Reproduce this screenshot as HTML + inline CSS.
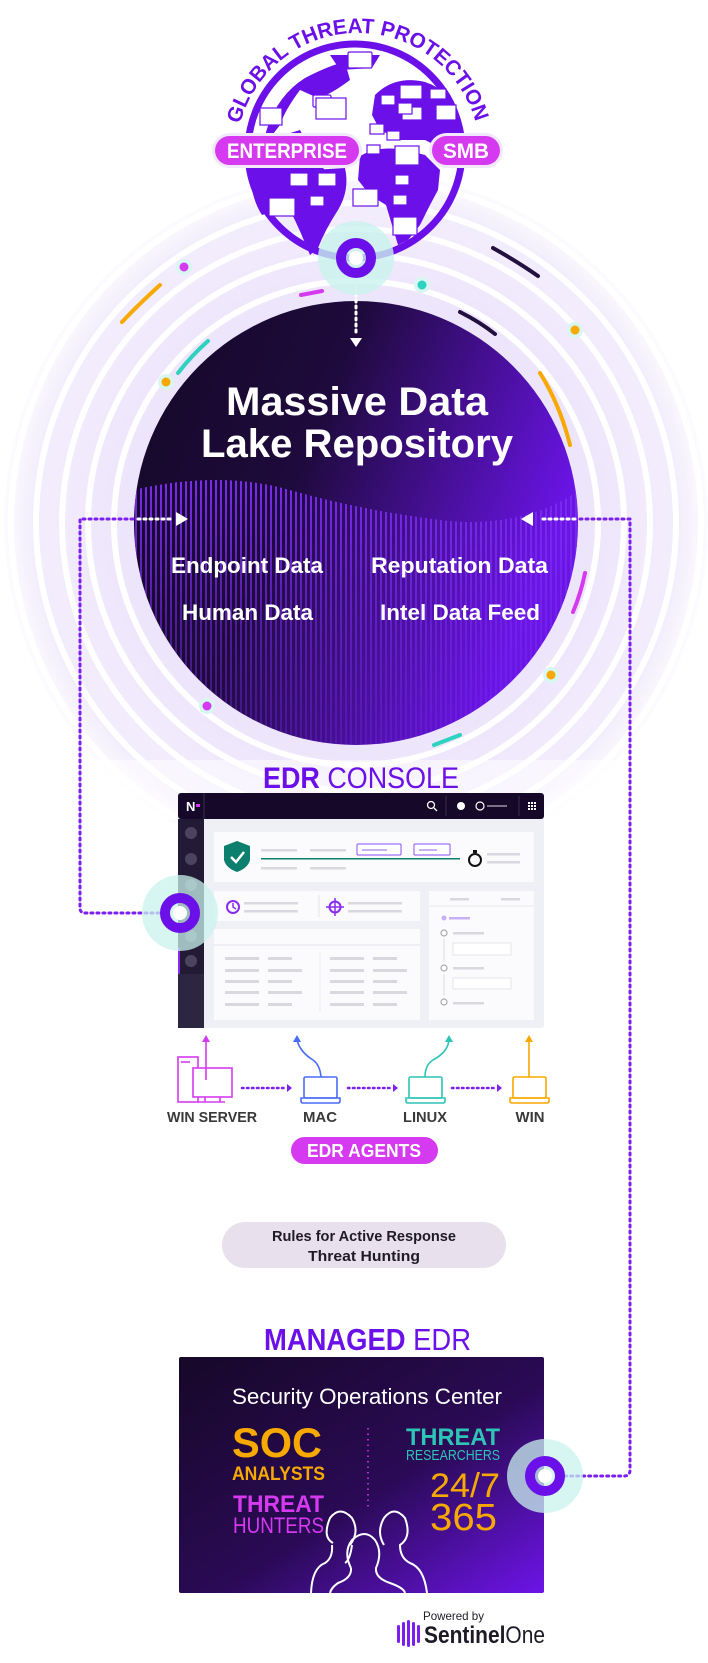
<!DOCTYPE html>
<html><head><meta charset="utf-8"><style>
html,body{margin:0;padding:0;background:#fff;}
svg{display:block;}
text{font-family:"Liberation Sans",sans-serif;}
</style></head><body>
<svg width="708" height="1663" viewBox="0 0 708 1663" xmlns="http://www.w3.org/2000/svg">
<defs>
<radialGradient id="glow" cx="356" cy="523" r="360" gradientUnits="userSpaceOnUse">
<stop offset="0.6" stop-color="#ece4fb"/><stop offset="0.9" stop-color="#f3eefc"/><stop offset="1" stop-color="#ffffff"/>
</radialGradient>
<linearGradient id="lake" x1="0" y1="0" x2="1" y2="0.4">
<stop offset="0" stop-color="#150826"/><stop offset="0.45" stop-color="#1e0a3c"/><stop offset="1" stop-color="#6a14e6"/>
</linearGradient>
<linearGradient id="soc" x1="0" y1="0" x2="1" y2="1">
<stop offset="0" stop-color="#170828"/><stop offset="0.55" stop-color="#2a0a55"/><stop offset="1" stop-color="#6d14e8"/>
</linearGradient>
<pattern id="stripes" width="5" height="10" patternUnits="userSpaceOnUse">
<rect width="2" height="10" fill="#7b2cf0"/>
</pattern>
<linearGradient id="fade" x1="0" y1="0" x2="0" y2="1">
<stop offset="0" stop-color="#fff" stop-opacity="1"/><stop offset="0.5" stop-color="#fff" stop-opacity="0.55"/><stop offset="1" stop-color="#fff" stop-opacity="0.25"/>
</linearGradient>
<mask id="wm"><path d="M133 490 Q220 470 290 490 T440 520 T580 490 L580 760 L133 760Z" fill="url(#fade)"/></mask>
<clipPath id="lc"><circle cx="356" cy="523" r="222"/></clipPath>
<path id="arcT" d="M240 124 A122 122 0 0 1 476 124"/>
</defs>

<circle cx="356" cy="523" r="352" fill="url(#glow)"/>
<g fill="none" stroke="#fff" stroke-width="6">
<circle cx="356" cy="523" r="242"/><circle cx="356" cy="523" r="268"/><circle cx="356" cy="523" r="294"/><circle cx="356" cy="523" r="320"/><circle cx="356" cy="523" r="345"/>
</g>
<rect x="0" y="760" width="708" height="60" fill="#fff" opacity="0.5"/>

<g fill="none" stroke-width="4" stroke-linecap="round">
<path d="M160 285 Q138 305 122 322" stroke="#f7a900"/>
<path d="M208 341 Q192 355 178 373" stroke="#2fd1c0"/>
<path d="M301 295 L322 291" stroke="#d63af0"/>
<path d="M493 248 Q518 262 538 276" stroke="#22103f"/>
<path d="M460 312 Q480 322 495 334" stroke="#22103f"/>
<path d="M540 373 Q560 405 570 445" stroke="#f7a900"/>
<path d="M585 573 Q581 593 573 612" stroke="#d63af0"/>
<path d="M434 745 L460 735" stroke="#2fd1c0"/>
</g>
<g>
<circle cx="184" cy="267" r="8" fill="#d8f6f2"/><circle cx="184" cy="267" r="4.5" fill="#d63af0"/>
<circle cx="422" cy="285" r="8" fill="#d8f6f2"/><circle cx="422" cy="285" r="4.5" fill="#2fd1c0"/>
<circle cx="575" cy="330" r="8" fill="#d8f6f2"/><circle cx="575" cy="330" r="4.5" fill="#f7a900"/>
<circle cx="166" cy="382" r="8" fill="#d8f6f2"/><circle cx="166" cy="382" r="4.5" fill="#f7a900"/>
<circle cx="207" cy="706" r="8" fill="#d8f6f2"/><circle cx="207" cy="706" r="4.5" fill="#d63af0"/>
<circle cx="551" cy="675" r="8" fill="#d8f6f2"/><circle cx="551" cy="675" r="4.5" fill="#f7a900"/>
</g>

<circle cx="356" cy="523" r="222" fill="url(#lake)"/>
<g clip-path="url(#lc)">
<rect x="133" y="460" width="450" height="300" fill="url(#stripes)" mask="url(#wm)"/>
</g>
<text x="357" y="415" font-size="40" font-weight="bold" fill="#fff" text-anchor="middle" textLength="262" lengthAdjust="spacingAndGlyphs">Massive Data</text>
<text x="357" y="457" font-size="40" font-weight="bold" fill="#fff" text-anchor="middle" textLength="312" lengthAdjust="spacingAndGlyphs">Lake Repository</text>
<g font-size="22" font-weight="bold" fill="#fff">
<text x="171" y="573" textLength="152" lengthAdjust="spacingAndGlyphs">Endpoint Data</text>
<text x="371" y="573" textLength="177" lengthAdjust="spacingAndGlyphs">Reputation Data</text>
<text x="182" y="620" textLength="131" lengthAdjust="spacingAndGlyphs">Human Data</text>
<text x="380" y="620" textLength="160" lengthAdjust="spacingAndGlyphs">Intel Data Feed</text>
</g>

<g fill="none" stroke="#7a1ff0" stroke-width="3" stroke-dasharray="2 4" stroke-linecap="round">
<path d="M133 519 L80 519 L80 908 Q80 913 85 913 L160 913"/>
<path d="M580 519 L630 519 L630 1470 Q630 1476 624 1476 L560 1476"/>
</g>
<g fill="none" stroke="#fff" stroke-width="3" stroke-dasharray="2 4" stroke-linecap="round">
<path d="M138 519 L172 519"/><path d="M575 519 L540 519"/>
<path d="M356 282 L356 335"/>
</g>
<path d="M176 512 L188 519 L176 526Z" fill="#fff"/>
<path d="M533 512 L521 519 L533 526Z" fill="#fff"/>
<path d="M350 338 L362 338 L356 347Z" fill="#fff"/>

<g fill="#6b10e8">
<path d="M262 150 Q270 100 305 78 Q330 65 345 62 L350 80 Q330 95 318 98 L300 90 Q285 110 280 125 L270 138 Q262 145 262 150Z"/>
<path d="M250 175 Q255 150 268 140 L300 130 Q310 150 320 165 L335 180 Q322 190 312 195 L300 196 Q290 200 280 210 L262 215 Q252 200 250 175Z"/>
<path d="M280 172 L345 168 Q350 190 338 210 Q325 230 318 248 L310 255 Q300 230 290 210 Z"/>
<path d="M375 95 Q395 75 425 82 Q450 90 455 115 L463 145 L445 150 L425 140 L400 140 L380 130 L372 115Z"/>
<path d="M360 156 Q380 145 405 150 L425 155 L440 170 L438 190 L430 205 L420 225 L408 240 L398 245 L392 225 L386 205 L370 195 L358 180Z"/>
<path d="M330 55 L380 55 L372 68 L340 70Z"/>
</g>
<circle cx="355" cy="151" r="107" fill="none" stroke="#6b10e8" stroke-width="7"/>
<g fill="#fff" stroke="#6b10e8" stroke-width="1.2">
<rect x="348" y="52" width="24" height="16" rx="1.5"/><rect x="313" y="95" width="18" height="12" rx="1.5"/><rect x="316" y="98" width="30" height="21"/><rect x="260" y="108" width="22" height="17"/>
<rect x="400" y="85" width="22" height="14"/><rect x="402" y="107" width="20" height="13"/><rect x="381" y="95" width="14" height="10"/><rect x="430" y="89" width="16" height="10"/><rect x="398" y="103" width="14" height="11"/><rect x="436" y="105" width="20" height="15"/>
<rect x="370" y="124" width="14" height="10"/><rect x="387" y="131" width="13" height="9"/><rect x="367" y="145" width="13" height="9"/><rect x="395" y="146" width="24" height="19"/>
<rect x="290" y="173" width="18" height="13"/><rect x="318" y="173" width="18" height="13"/><rect x="269" y="198" width="26" height="18"/><rect x="310" y="196" width="14" height="10"/><rect x="353" y="189" width="25" height="17"/><rect x="395" y="175" width="14" height="10"/><rect x="393" y="195" width="14" height="10"/><rect x="393" y="217" width="24" height="18"/>
</g>
<rect x="212" y="133" width="150" height="35" rx="17.5" fill="#f1e8fd"/>
<rect x="215" y="136" width="144" height="29" rx="14.5" fill="#d63af0"/>
<text x="287" y="158" font-size="21" font-weight="bold" fill="#fff" text-anchor="middle" textLength="120" lengthAdjust="spacingAndGlyphs">ENTERPRISE</text>
<rect x="429" y="133" width="74" height="35" rx="17.5" fill="#f1e8fd"/>
<rect x="432" y="136" width="68" height="29" rx="14.5" fill="#d63af0"/>
<text x="466" y="158" font-size="21" font-weight="bold" fill="#fff" text-anchor="middle" textLength="46" lengthAdjust="spacingAndGlyphs">SMB</text>
<text font-size="21" font-weight="bold" fill="#6b10e8"><textPath href="#arcT" textLength="318" lengthAdjust="spacingAndGlyphs">GLOBAL THREAT PROTECTION</textPath></text>

<ellipse cx="356" cy="258" rx="38" ry="37" fill="#c9f3ee" opacity="0.8"/>
<circle cx="356" cy="258" r="15" fill="none" stroke="#6b10e8" stroke-width="10"/>
<circle cx="356" cy="258" r="7" fill="#fff"/>

<text x="263" y="788" font-size="30" fill="#6b10e8" textLength="196" lengthAdjust="spacingAndGlyphs"><tspan font-weight="bold">EDR</tspan> CONSOLE</text>
<rect x="178" y="793" width="366" height="235" rx="3" fill="#eef0f6"/>
<rect x="178" y="793" width="366" height="26" rx="3" fill="#150828"/>
<rect x="178" y="819" width="26" height="209" fill="#231b36"/>
<rect x="178" y="974" width="26" height="54" fill="#2c2640"/>
<rect x="178" y="948" width="2" height="26" fill="#8a2cf0"/>
<g fill="#4b4460"><circle cx="191" cy="833" r="6"/><circle cx="191" cy="859" r="6"/><circle cx="191" cy="885" r="6"/><circle cx="191" cy="936" r="6"/><circle cx="191" cy="961" r="6"/></g>
<text x="186" y="811" font-size="13" font-weight="bold" fill="#fff">N</text><rect x="196" y="804" width="4" height="3" fill="#d63af0"/>
<line x1="204" y1="793" x2="204" y2="819" stroke="#3a3050"/>
<line x1="446" y1="796" x2="446" y2="816" stroke="#3a3050"/><line x1="519" y1="796" x2="519" y2="816" stroke="#3a3050"/>
<circle cx="431" cy="805" r="3.5" fill="none" stroke="#fff" stroke-width="1.3"/><line x1="434" y1="808" x2="437" y2="811" stroke="#fff" stroke-width="1.3"/>
<circle cx="461" cy="806" r="4" fill="#fff"/><circle cx="480" cy="806" r="4" fill="none" stroke="#fff" stroke-width="1.2"/><rect x="487" y="805" width="20" height="2" fill="#7a708a"/>
<g fill="#fff"><rect x="528" y="802" width="2" height="2"/><rect x="531" y="802" width="2" height="2"/><rect x="534" y="802" width="2" height="2"/><rect x="528" y="805" width="2" height="2"/><rect x="531" y="805" width="2" height="2"/><rect x="534" y="805" width="2" height="2"/><rect x="528" y="808" width="2" height="2"/><rect x="531" y="808" width="2" height="2"/><rect x="534" y="808" width="2" height="2"/></g>
<rect x="214" y="832" width="320" height="50" fill="#fbfbfd"/>
<path d="M237 841 L250 846 L250 860 Q248 868 237 872 Q226 868 224 860 L224 846Z" fill="#0d7f6e"/>
<path d="M231 857 L236 862 L244 852" fill="none" stroke="#fff" stroke-width="2.5"/>
<g fill="#d8d8de"><rect x="261" y="849" width="36" height="2.5"/><rect x="310" y="849" width="36" height="2.5"/><rect x="261" y="867" width="36" height="2.5"/><rect x="310" y="867" width="36" height="2.5"/><rect x="487" y="853" width="33" height="2.5"/><rect x="487" y="861" width="33" height="2.5"/></g>
<rect x="357" y="844" width="44" height="11" rx="1" fill="#fff" stroke="#8a4cf5"/><rect x="362" y="849" width="25" height="2" fill="#c8b0f5"/>
<rect x="414" y="844" width="36" height="11" rx="1" fill="#fff" stroke="#8a4cf5"/><rect x="419" y="849" width="18" height="2" fill="#c8b0f5"/>
<rect x="261" y="858" width="199" height="1.5" fill="#0d7f6e"/>
<circle cx="475" cy="860" r="6" fill="none" stroke="#111" stroke-width="2"/><rect x="473" y="850" width="4" height="3" fill="#111"/>
<rect x="214" y="891" width="206" height="30" fill="#fbfbfd"/>
<circle cx="233" cy="907" r="6" fill="none" stroke="#8a2cf0" stroke-width="2"/><path d="M233 903 L233 907 L236 909" fill="none" stroke="#8a2cf0" stroke-width="1.5"/>
<g fill="#d8d8de"><rect x="244" y="902" width="54" height="2.5"/><rect x="244" y="910" width="54" height="2.5"/><rect x="348" y="902" width="54" height="2.5"/><rect x="348" y="910" width="54" height="2.5"/></g>
<line x1="319" y1="895" x2="319" y2="917" stroke="#e4e4ea"/>
<circle cx="335" cy="907" r="5.5" fill="none" stroke="#8a2cf0" stroke-width="2"/><path d="M335 898 V916 M326 907 H344" stroke="#8a2cf0" stroke-width="1.5"/>
<rect x="429" y="891" width="105" height="129" fill="#fbfbfd"/>
<g fill="#d8d8de"><rect x="450" y="898" width="19" height="2.5"/><rect x="501" y="898" width="19" height="2.5"/><rect x="453" y="932" width="31" height="2.5"/><rect x="453" y="967" width="31" height="2.5"/><rect x="453" y="1002" width="31" height="2.5"/></g>
<line x1="429" y1="906" x2="534" y2="906" stroke="#e8e8ee"/>
<circle cx="444" cy="918" r="2.5" fill="#c8b0f5"/><rect x="449" y="917" width="21" height="2.5" fill="#c8b0f5"/>
<g fill="none" stroke="#aaa" stroke-width="1.2"><circle cx="444" cy="933" r="3"/><circle cx="444" cy="968" r="3"/><circle cx="444" cy="1002" r="3"/></g>
<line x1="444" y1="939" x2="444" y2="962" stroke="#ddd"/><line x1="444" y1="974" x2="444" y2="996" stroke="#ddd"/>
<rect x="453" y="943" width="58" height="12" fill="#fff" stroke="#e4e4ea"/><rect x="453" y="978" width="58" height="11" fill="#fff" stroke="#e4e4ea"/>
<rect x="214" y="929" width="206" height="15" fill="#fbfbfd"/>
<rect x="214" y="946" width="206" height="74" fill="#fbfbfd"/>
<line x1="320" y1="952" x2="320" y2="1013" stroke="#eee"/>
<g fill="#d8d8de">
<rect x="225" y="957" width="34" height="3"/><rect x="268" y="957" width="24" height="3"/><rect x="330" y="957" width="34" height="3"/><rect x="373" y="957" width="24" height="3"/>
<rect x="225" y="969" width="34" height="3"/><rect x="268" y="969" width="34" height="3"/><rect x="330" y="969" width="34" height="3"/><rect x="373" y="969" width="34" height="3"/>
<rect x="225" y="980" width="34" height="3"/><rect x="268" y="980" width="24" height="3"/><rect x="330" y="980" width="34" height="3"/><rect x="373" y="980" width="24" height="3"/>
<rect x="225" y="991" width="34" height="3"/><rect x="268" y="991" width="34" height="3"/><rect x="330" y="991" width="34" height="3"/><rect x="373" y="991" width="34" height="3"/>
<rect x="225" y="1003" width="34" height="3"/><rect x="268" y="1003" width="24" height="3"/><rect x="330" y="1003" width="34" height="3"/><rect x="373" y="1003" width="24" height="3"/>
</g>
<ellipse cx="180" cy="913" rx="38" ry="38" fill="#c9f3ee" opacity="0.75"/>
<circle cx="180" cy="913" r="15" fill="none" stroke="#6b10e8" stroke-width="10"/>
<circle cx="180" cy="913" r="7" fill="#fff"/>

<g fill="none" stroke-width="1.6">
<g stroke="#d63af0"><rect x="178" y="1057" width="20" height="45"/><line x1="181" y1="1062" x2="190" y2="1062"/><rect x="193" y="1068" width="39" height="29" fill="#fff"/><path d="M205 1097 V1102 M220 1097 V1102 M198 1102 H225"/><path d="M206 1080 V1040"/></g>
<g stroke="#4a6cf7"><rect x="304" y="1077" width="33" height="21" rx="1.5"/><path d="M301 1098 H340 V1101 Q340 1103 338 1103 H303 Q301 1103 301 1101Z"/><path d="M321 1077 Q320 1065 313 1060 Q300 1052 297 1040"/></g>
<g stroke="#2ec4b6"><rect x="409" y="1077" width="33" height="21" rx="1.5"/><path d="M406 1098 H445 V1101 Q445 1103 443 1103 H408 Q406 1103 406 1101Z"/><path d="M425 1077 Q425 1065 433 1060 Q448 1052 449 1040"/></g>
<g stroke="#f7a900"><rect x="513" y="1077" width="33" height="21" rx="1.5"/><path d="M510 1098 H549 V1101 Q549 1103 547 1103 H512 Q510 1103 510 1101Z"/><path d="M529 1077 V1040"/></g>
</g>
<path d="M202 1042 L206 1035 L210 1042Z" fill="#d63af0"/>
<path d="M293 1042 L297 1035 L301 1042Z" fill="#4a6cf7"/>
<path d="M445 1042 L449 1035 L453 1042Z" fill="#2ec4b6"/>
<path d="M525 1042 L529 1035 L533 1042Z" fill="#f7a900"/>
<g fill="none" stroke="#7a1ff0" stroke-width="2.5" stroke-dasharray="1.5 3.5" stroke-linecap="round">
<path d="M242 1088 H285"/><path d="M348 1088 H391"/><path d="M452 1088 H495"/>
</g>
<g fill="#7a1ff0"><path d="M287 1084 L292 1088 L287 1092Z"/><path d="M393 1084 L398 1088 L393 1092Z"/><path d="M497 1084 L502 1088 L497 1092Z"/></g>
<g font-size="15" font-weight="bold" fill="#3a3a3a" text-anchor="middle">
<text x="212" y="1122" textLength="90" lengthAdjust="spacingAndGlyphs">WIN SERVER</text>
<text x="320" y="1122" textLength="34" lengthAdjust="spacingAndGlyphs">MAC</text>
<text x="425" y="1122" textLength="44" lengthAdjust="spacingAndGlyphs">LINUX</text>
<text x="530" y="1122" textLength="29" lengthAdjust="spacingAndGlyphs">WIN</text>
</g>
<rect x="291" y="1137" width="147" height="27" rx="13.5" fill="#d63af0"/>
<text x="364" y="1157" font-size="18" font-weight="bold" fill="#fff" text-anchor="middle" textLength="114" lengthAdjust="spacingAndGlyphs">EDR AGENTS</text>

<rect x="222" y="1222" width="284" height="46" rx="23" fill="#e9e0ee"/>
<g font-size="15" font-weight="bold" fill="#1e1a26" text-anchor="middle">
<text x="364" y="1241" textLength="184" lengthAdjust="spacingAndGlyphs">Rules for Active Response</text>
<text x="364" y="1261" textLength="112" lengthAdjust="spacingAndGlyphs">Threat Hunting</text>
</g>

<text x="264" y="1350" font-size="31" fill="#6b10e8" textLength="207" lengthAdjust="spacingAndGlyphs"><tspan font-weight="bold">MANAGED</tspan> EDR</text>
<rect x="179" y="1357" width="365" height="236" rx="2" fill="url(#soc)"/>
<text x="367" y="1404" font-size="22" fill="#fff" text-anchor="middle" textLength="270" lengthAdjust="spacingAndGlyphs">Security Operations Center</text>
<text x="232" y="1457" font-size="42" font-weight="bold" fill="#f7a900" textLength="90" lengthAdjust="spacingAndGlyphs">SOC</text>
<text x="232" y="1480" font-size="19" font-weight="bold" fill="#f7a900" textLength="93" lengthAdjust="spacingAndGlyphs">ANALYSTS</text>
<text x="233" y="1512" font-size="24" font-weight="bold" fill="#d63af0" textLength="91" lengthAdjust="spacingAndGlyphs">THREAT</text>
<text x="233" y="1533" font-size="22" fill="#d63af0" textLength="91" lengthAdjust="spacingAndGlyphs">HUNTERS</text>
<line x1="368" y1="1428" x2="368" y2="1508" stroke="#d63af0" stroke-width="1.5" stroke-dasharray="1.5 4"/>
<text x="406" y="1445" font-size="24" font-weight="bold" fill="#2ec4b6" textLength="94" lengthAdjust="spacingAndGlyphs">THREAT</text>
<text x="406" y="1460" font-size="15" fill="#2ec4b6" textLength="94" lengthAdjust="spacingAndGlyphs">RESEARCHERS</text>
<text x="430" y="1497" font-size="34" fill="#f7a900" textLength="70" lengthAdjust="spacingAndGlyphs">24/7</text>
<text x="430" y="1530" font-size="38" fill="#f7a900" textLength="67" lengthAdjust="spacingAndGlyphs">365</text>
<g fill="none" stroke="#fff" stroke-width="2">
<path d="M333 1543 Q322 1537 330 1518 Q340 1505 352 1518 Q360 1532 350 1545"/>
<path d="M352 1545 Q350 1560 345 1563"/>
<path d="M332 1545 Q333 1558 325 1563 Q312 1568 311 1593"/>
<path d="M384 1545 Q376 1532 384 1518 Q394 1505 405 1518 Q412 1537 400 1545 Q400 1558 410 1563 Q424 1568 427 1593"/>
<path d="M351 1568 Q343 1552 352 1540 Q365 1528 375 1540 Q383 1552 376 1568 Q375 1578 390 1583 Q404 1588 405 1593"/>
<path d="M351 1568 Q352 1578 338 1583 Q331 1588 330 1593"/>
</g>
<ellipse cx="545" cy="1476" rx="38" ry="37" fill="#c9f3ee" opacity="0.75"/>
<circle cx="545" cy="1476" r="15" fill="none" stroke="#6b10e8" stroke-width="10"/>
<circle cx="545" cy="1476" r="7" fill="#fff"/>

<text x="423" y="1620" font-size="12" fill="#1e1a26" textLength="61" lengthAdjust="spacingAndGlyphs">Powered by</text>
<text x="424" y="1643" font-size="24" fill="#1e1a26" textLength="121" lengthAdjust="spacingAndGlyphs"><tspan font-weight="bold">Sentinel</tspan>One</text>
<g fill="#7a1ff0"><rect x="397" y="1625" width="3" height="18" rx="1.5"/><rect x="402" y="1622" width="3" height="24" rx="1.5"/><rect x="407" y="1620" width="3" height="27" rx="1.5"/><rect x="412" y="1622" width="3" height="24" rx="1.5"/><rect x="417" y="1625" width="3" height="18" rx="1.5"/></g>
</svg>
</body></html>
